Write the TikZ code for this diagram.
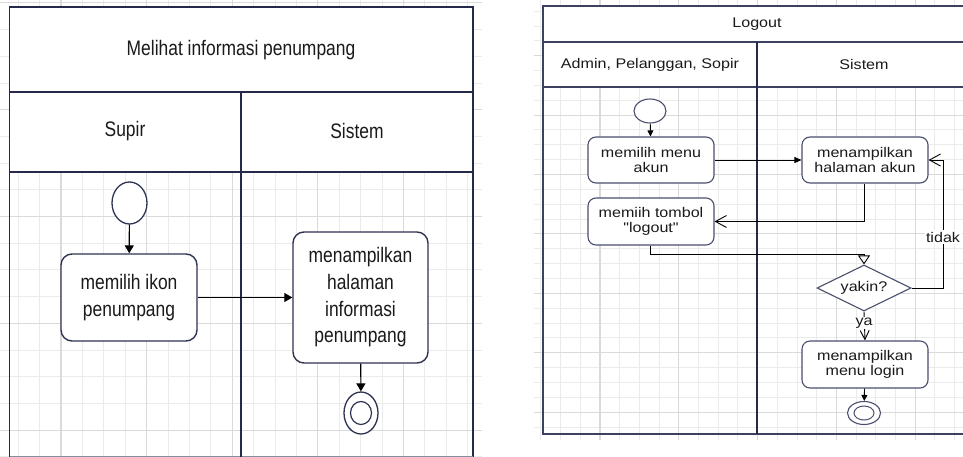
\documentclass[tikz,border=0pt]{standalone}
\usepackage{fontspec}
\setmainfont{Liberation Sans}
\newfontfamily\lfont[FakeStretch=0.83]{Liberation Sans}
\newfontfamily\rfont[FakeStretch=1.15]{Liberation Sans}
\usetikzlibrary{arrows.meta,shapes.geometric,calc}
\definecolor{frame}{HTML}{262A4A}
\definecolor{rframe}{HTML}{3C4160}
\definecolor{boxc}{HTML}{2F3452}
\definecolor{rbox}{HTML}{4A4F6E}
\definecolor{txt}{HTML}{1A1A1A}
\definecolor{gridminor}{HTML}{EBEBEB}
\definecolor{gridmajor}{HTML}{DADADA}
\begin{document}
\begin{tikzpicture}[x=1pt,y=-1pt,
  ltext/.style={font=\lfont\fontsize{21}{26.7}\selectfont, text=txt, align=center, inner sep=0pt},
  rtext/.style={font=\rfont\fontsize{14}{14.8}\selectfont, text=txt, align=center, inner sep=0pt},
  lbox/.style={ltext, draw=boxc, line width=1.4pt, rounded corners=11pt, fill=white},
  rbox/.style={rtext, draw=rbox, line width=1.1pt, rounded corners=8pt, fill=white, minimum width=126pt, minimum height=46pt},
  lstart/.style={ellipse, draw=boxc, line width=1.3pt, fill=white, inner sep=0pt},
  rstart/.style={ellipse, draw=rbox, line width=1.1pt, fill=white, inner sep=0pt},
  larr/.style={-{Triangle[length=8pt,width=9pt]}, line width=1.2pt, black},
  rfillh/.style={-{Triangle[length=7pt,width=6pt]}, line width=0.9pt, black},
  rfillv/.style={-{Triangle[length=6pt,width=6pt]}, line width=0.9pt, black},
  rbarbh/.style={-{Straight Barb[length=11pt,width=12pt]}, line width=0.9pt, black},
  rbarbv/.style={-{Straight Barb[length=9pt,width=9pt]}, line width=0.9pt, black},
  rhollow/.style={-{Triangle[open,length=9pt,width=12pt,fill=white]}, line width=0.9pt, black},
  gmin/.style={draw=gridminor, line width=0.9pt},
  gmaj/.style={draw=gridmajor, line width=1.1pt}
]
\useasboundingbox (0,0) rectangle (963,457);
\fill[white] (0,0) rectangle (963,457);

% ---------------- left grid
\foreach \k in {0,...,22} \draw[gmin] (-3.2+21.4*\k,0) -- (-3.2+21.4*\k,457);
\foreach \k in {0,...,17} \draw[gmin] (0,2.9+26.7*\k) -- (482,2.9+26.7*\k);
\foreach \k in {0,...,4} \draw[gmaj] (61+85.6*\k,0) -- (61+85.6*\k,457);
\foreach \k in {0,...,4} \draw[gmaj] (0,2.9+106.8*\k) -- (482,2.9+106.8*\k);

% ---------------- right grid
\foreach \k in {-3,...,18} \draw[gmin] (600+19.7*\k,0) -- (600+19.7*\k,440);
\foreach \k in {-23,-22,...,5} \draw[gmin] (534,352.7+14.85*\k) -- (963,352.7+14.85*\k);
\foreach \k in {0,...,4} \draw[gmaj] (600+78.8*\k,0) -- (600+78.8*\k,440);
\foreach \k in {-5,-4,...,1} \draw[gmaj] (534,352.7+59.4*\k) -- (963,352.7+59.4*\k);

% ---------------- left frame
\fill[white] (9.5,7) rectangle (473,172);
\draw[frame, line width=1.6pt] (9.5,462) -- (9.5,7) -- (473,7) -- (473,462);
\draw[rframe!60, line width=1pt] (9.5,456) -- (473,456);
\draw[frame, line width=1.6pt] (9.5,92) -- (473,92);
\draw[frame, line width=1.6pt] (9.5,172) -- (473,172);
\draw[frame, line width=1.6pt] (241,92) -- (241,462);
\node[ltext] (ltitle) at (241,50) {Melihat informasi penumpang};
\node[ltext] (lsupir) at (125,131) {Supir};
\node[ltext] (lsistem) at (357,131) {Sistem};

% left nodes
\node[lstart, minimum width=35pt, minimum height=42pt] (ls) at (129.5,203) {};
\node[lbox, minimum width=136pt, minimum height=87pt] (l1) at (129,297.5) {memilih ikon\\penumpang};
\node[lbox, minimum width=135pt, minimum height=131pt] (l2) at (360.5,297.5) {menampilkan\\halaman\\informasi\\penumpang};
\node[lstart, minimum width=34pt, minimum height=42pt] (le) at (361,413) {};
\node[ellipse, draw=boxc, line width=1.2pt, inner sep=0pt, minimum width=21pt, minimum height=23pt] (lei) at (le.center) {};
\draw[larr] (ls) -- (l1);
\draw[larr] (l1) -- (l2);
\draw[larr] (l2) -- (le);

% ---------------- right frame
\begin{scope}
\clip (534,0) rectangle (963,457);
\fill[white] (543,6) rectangle (980,87);
\draw[rframe, line width=1.3pt] (543,6) rectangle (980,434);
\draw[rframe, line width=1.3pt] (543,42) -- (980,42);
\draw[rframe, line width=1.3pt] (543,87) -- (980,87);
\draw[frame, line width=1.3pt] (757,42) -- (757,434);
\end{scope}
\node[rtext] (rtitle) at (757,24) {Logout};
\node[rtext] (radmin) at (650,64.5) {Admin, Pelanggan, Sopir};
\node[rtext] (rsistem) at (864,64.5) {Sistem};

% right nodes
\node[rstart, minimum width=32pt, minimum height=24pt] (rs) at (650,111) {};
\node[rbox] (r1) at (651,160) {memilih menu\\akun};
\node[rbox] (r2) at (865,160) {menampilkan\\halaman akun};
\node[rbox, minimum height=47pt] (r3) at (651,221.5) {memiih tombol\\"logout"};
\node[rtext, diamond, aspect=2, draw=rbox, line width=1.1pt, fill=white, minimum width=94pt, minimum height=46pt] (dia) at (864,288) {yakin?};
\node[rbox, minimum height=47pt] (r4) at (865,364.5) {menampilkan\\menu login};
\node[rstart, minimum width=33pt, minimum height=23pt] (re) at (864,413) {};
\node[ellipse, draw=rbox, line width=1pt, inner sep=0pt, minimum width=20pt, minimum height=14pt] (rei) at (re.center) {};

\draw[rfillv] (rs) -- (r1);
\draw[rfillh] (r1) -- (r2);
\draw[rbarbh] (r2.south -| 864,0) |- (r3.east);
\draw[rhollow] (r3.south -| 650,0) -- (650,254) -| (dia.north);
\coordinate (tk) at (943,160);
\draw[rbarbh] (dia.east) -| (tk) -- (r2.east);
\node[rtext, fill=white, inner sep=1.5pt] (tidak) at (943,237) {tidak};
\draw[rbarbv] (dia.south) -- (r4.north);
\node[rtext, fill=white, inner sep=1pt] (ya) at (864,323) {ya};
\draw[rfillv] (r4) -- (re);
\end{tikzpicture}
\end{document}
